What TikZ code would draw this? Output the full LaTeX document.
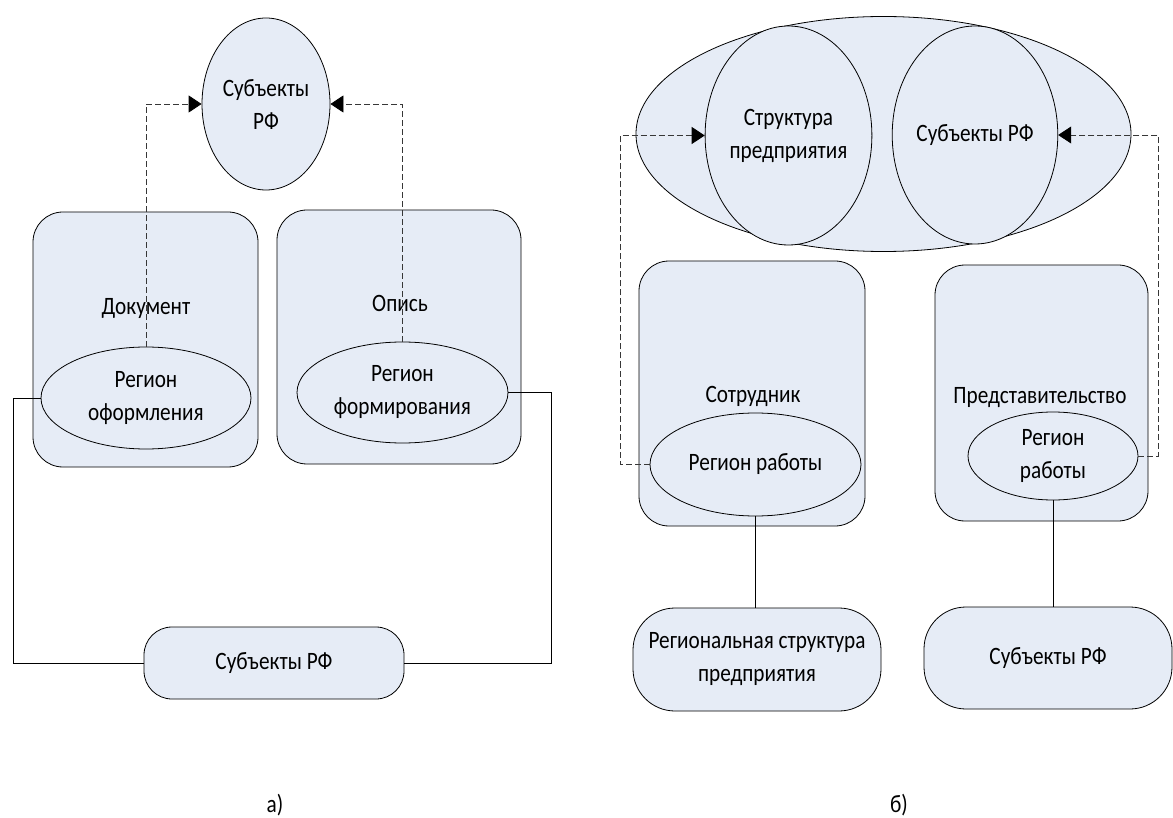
\documentclass[tikz,border=0pt]{standalone}
\usepackage{fontspec}
\setmainfont{Carlito}[FakeStretch=0.85]
\usetikzlibrary{shapes.geometric,arrows.meta}
\definecolor{fillc}{RGB}{230,236,246}
\definecolor{dashc}{RGB}{55,55,55}
\begin{document}
\begin{tikzpicture}[x=1pt,y=-1pt,
  shp/.style={draw, line width=0.8pt, fill=fillc, inner sep=0pt, align=center, font=\fontsize{25}{33}\selectfont},
  ell/.style={shp, ellipse},
  rbox/.style={shp, rectangle, rounded corners=30pt},
  txt/.style={inner sep=0pt, align=center, font=\fontsize{25}{33}\selectfont},
  conn/.style={draw, line width=0.7pt},
  dsh/.style={draw=dashc, dash pattern=on 6pt off 3pt, line width=0.8pt},
  arr/.style={dsh, -{Triangle[length=13pt,width=17pt,black]}}
]
\useasboundingbox (0,0) rectangle (1173,818);

% ---------- panel a ----------
\node[ell, minimum width=128pt, minimum height=172pt] (subL) at (266,104) {Субъекты\\РФ};
\node[rbox, minimum width=225pt, minimum height=255pt] (doc) at (145.5,339.5) {};
\node[rbox, minimum width=244pt, minimum height=254pt] (op) at (399,337) {};
\node[txt, anchor=base] (docT) at (146,315) {Документ};
\node[txt, anchor=base] (opT) at (400,312) {Опись};
\node[ell, minimum width=210pt, minimum height=102pt] (regO) at (146,398) {Регион\\оформления};
\node[ell, minimum width=211pt, minimum height=101pt] (regF) at (402.5,392.5) {Регион\\формирования};
\node[rbox, rounded corners=28pt, minimum width=260pt, minimum height=72pt] (subB) at (274,663) {Субъекты РФ};

\draw[conn] (regO.west) -- ++(-27,0) |- (subB.west);
\draw[conn] (regF.east) -- ++(43,0) |- (subB.east);
\draw[arr] (regO.north) |- (subL.west);
\draw[arr] (regF.north) |- (subL.east);

\node[txt] (capA) at (275,805) {а)};

% ---------- panel b ----------
\node[ell, minimum width=495pt, minimum height=235pt] (big) at (883.5,134) {};
\node[ell, minimum width=161pt, minimum height=219pt] (str) at (788.5,135.5) {Структура\\предприятия};
\node[ell, minimum width=158pt, minimum height=218pt] (subR) at (975,135) {Субъекты РФ};
\node[rbox, minimum width=226pt, minimum height=265pt] (sotr) at (752,393.5) {};
\node[rbox, minimum width=213pt, minimum height=256pt] (pred) at (1041.5,393) {};
\node[txt, anchor=base] (sotrT) at (753,402) {Сотрудник};
\node[txt, anchor=base] (predT) at (1040,403) {Представительство};
\node[ell, minimum width=211pt, minimum height=103pt] (rr1) at (755.5,464.5) {Регион работы};
\node[ell, minimum width=170pt, minimum height=88pt] (rr2) at (1053,456) {Регион\\работы};
\node[rbox, rounded corners=42pt, minimum width=248pt, minimum height=103pt] (rs) at (757,659.5) {Региональная структура\\предприятия};
\node[rbox, rounded corners=42pt, minimum width=248pt, minimum height=102pt] (sr) at (1048,658) {Субъекты РФ};

\draw[conn] (rr1.south) -- (rr1.south |- rs.north);
\draw[conn] (rr2.south) -- (rr2.south |- sr.north);
\draw[arr] (rr1.west) -- ++(-29,0) |- (str.west);
\draw[arr] (rr2.east) -- ++(20,0) |- (subR.east);

\node[txt] (capB) at (899,805) {б)};
\end{tikzpicture}
\end{document}
